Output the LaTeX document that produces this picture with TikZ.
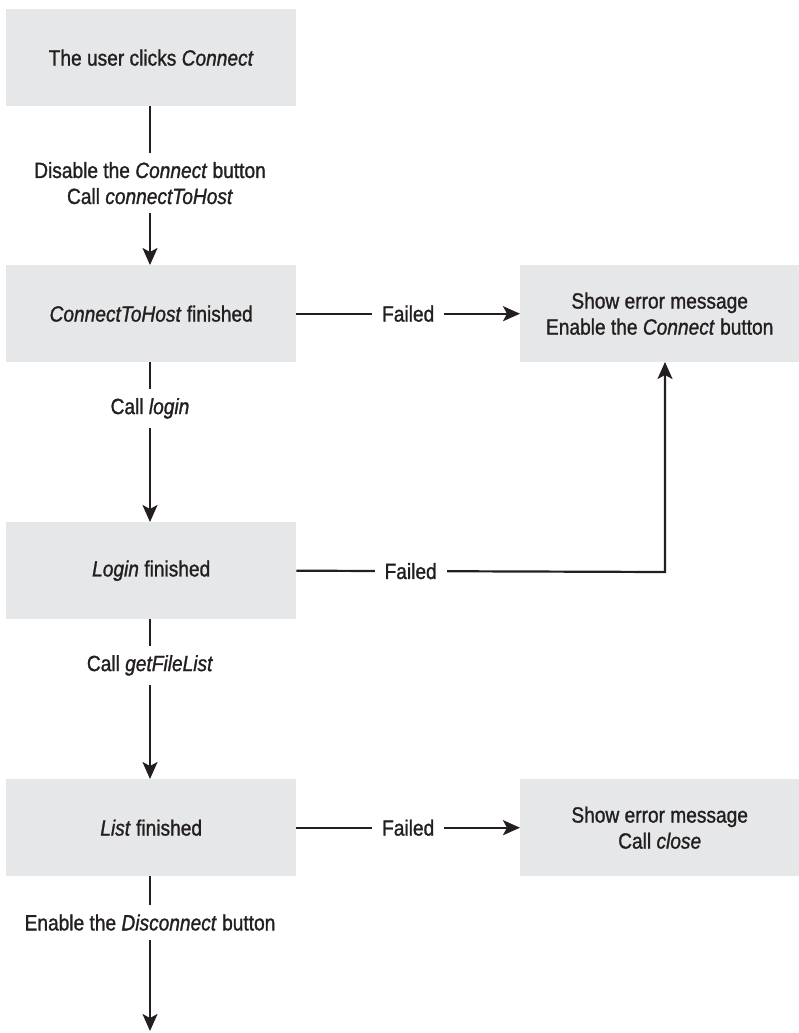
\documentclass[tikz,border=0pt]{standalone}
\usepackage{fontspec}
\setmainfont[FakeStretch=0.87,FakeBold=1.2]{Liberation Sans}
\usetikzlibrary{arrows.meta}
\definecolor{boxgrey}{HTML}{E6E7E8}
\definecolor{ink}{HTML}{231F20}
\begin{document}
\begin{tikzpicture}[x=1pt,y=-1pt,
  every node/.style={font=\fontsize{22}{26}\selectfont, text=ink},
  stepbox/.style={fill=boxgrey, draw=none, minimum width=290pt, minimum height=97pt, inner sep=0pt, anchor=north west, align=center},
  errbox/.style={fill=boxgrey, draw=none, minimum width=279pt, minimum height=97pt, inner sep=0pt, anchor=north west, align=center},
  lbl/.style={fill=white, inner xsep=10pt, inner ysep=9pt, align=center},
  conn/.style={draw=ink, line width=2.2pt},
  arr/.style={conn, -{Stealth[width=15pt,length=17pt,inset=4pt]}}]
\useasboundingbox (0,0) rectangle (799,1033);
\node[stepbox] (b1) at (6,9) {The user clicks \textit{Connect}};
\node[stepbox] (b2) at (6,265) {\textit{ConnectToHost} finished};
\node[stepbox] (b3) at (6,522) {\textit{Login} finished};
\node[stepbox] (b4) at (6,779) {\textit{List} finished};
\node[errbox] (e1) at (520,265) {Show error message\\Enable the \textit{Connect} button};
\node[errbox] (e2) at (520,779) {Show error message\\Call \textit{close}};
\coordinate (end) at (150,1031);
\coordinate (b1s) at (150,106);
\coordinate (b2n) at (150,265);
\coordinate (b2s) at (150,362);
\coordinate (b3n) at (150,522);
\coordinate (b3s) at (150,619);
\coordinate (b4n) at (150,779);
\coordinate (b4s) at (150,876);
\coordinate (corner) at (665,572);
\coordinate (e1s) at (665,362);
\draw[arr] (b1s) -- node[lbl, pos=0.485]{Disable the \textit{Connect} button\\Call \textit{connectToHost}} (b2n);
\draw[arr] (b2s) -- node[lbl, pos=0.29]{Call \textit{login}} (b3n);
\draw[arr] (b3s) -- node[lbl, pos=0.29]{Call \textit{getFileList}} (b4n);
\draw[arr] (b4s) -- node[lbl, pos=0.30]{Enable the \textit{Disconnect} button} (end);
\draw[arr] (b2.east) -- node[lbl]{Failed} (e1.west);
\draw[arr] (b4.east) -- node[lbl]{Failed} (e2.west);
\draw[arr] (b3.east) -- node[lbl, pos=0.31]{Failed} (corner) -- (e1s);
\end{tikzpicture}
\end{document}
